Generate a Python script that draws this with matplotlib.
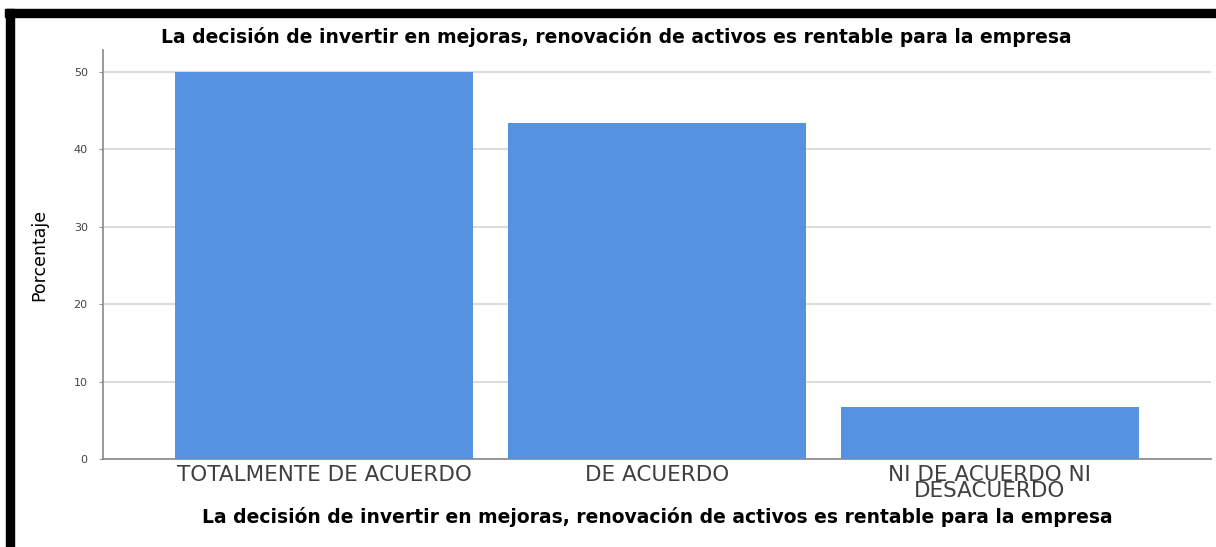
import matplotlib.pyplot as plt
from matplotlib.patches import Rectangle

categories = ['TOTALMENTE DE ACUERDO', 'DE ACUERDO', 'NI DE ACUERDO NI\nDESACUERDO']
porcentaje = [50.0, 43.33, 6.67]
y_ticks = [0, 10, 20, 30, 40, 50]
titulo = 'La decisión de invertir en mejoras, renovación de activos es rentable para la empresa'

W, H = 1216, 547
fig = plt.figure(figsize=(W / 100, H / 100), dpi=100)
ax = fig.add_axes([103 / W, 1 - 459 / H, (1211 - 103) / W, (459 - 50) / H])

x = range(len(categories))
ax.bar(x, porcentaje, width=0.895, color='#5593e0', zorder=3)

ax.set_xlim(-0.664, 2.665)
ax.set_ylim(0, 52.8)
ax.set_yticks(y_ticks)
ax.set_yticklabels([str(v) for v in y_ticks], fontsize=8, color='#444444')
ax.yaxis.grid(True, color='#dcdcdc', linewidth=1.5, zorder=0)
ax.set_xticks(list(x))
ax.set_xticklabels(categories, fontsize=15.5, color='#404040', linespacing=0.8)
ax.tick_params(axis='x', length=0, pad=4)
ax.tick_params(axis='y', length=3, color='#999999', pad=8)

for side in ['top', 'right']:
    ax.spines[side].set_visible(False)
for side in ['left', 'bottom']:
    ax.spines[side].set_color('#888888')
    ax.spines[side].set_linewidth(1.2)

ax.set_ylabel('Porcentaje', fontsize=12.5, labelpad=18)
ax.set_xlabel(titulo, fontsize=13.5, fontweight='bold', labelpad=4)
fig.text(616 / W, 1 - 37 / H, titulo, fontsize=13.5, fontweight='bold', ha='center', va='center')

# black frame remnants on top and left edges
fig.add_artist(Rectangle((5 / W, 1 - 17 / H), 1 - 5 / W, 8 / H, transform=fig.transFigure, color='black'))
fig.add_artist(Rectangle((6 / W, 0), 8 / W, 1 - 9 / H, transform=fig.transFigure, color='black'))

fig.savefig('out.png', dpi=100)
